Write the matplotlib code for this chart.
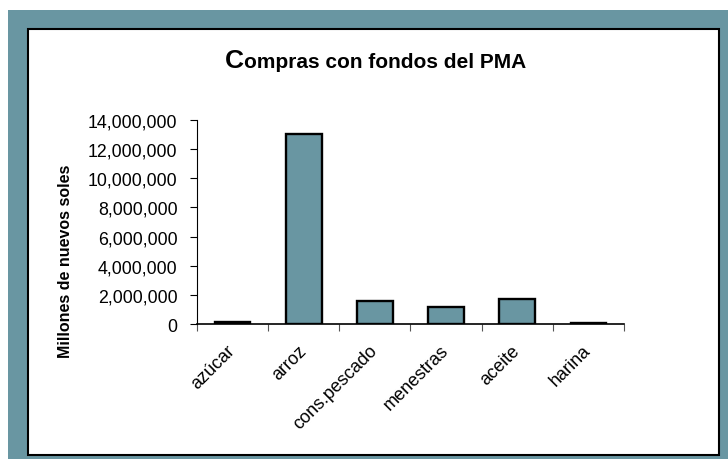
import numpy as np
import matplotlib
matplotlib.use("Agg")
import matplotlib.pyplot as plt
from matplotlib.patches import Rectangle
from matplotlib.ticker import FuncFormatter

plt.rcParams['font.family'] = ['Liberation Sans', 'DejaVu Sans']

# datos
productos = ["azúcar", "arroz", "cons.pescado", "menestras", "aceite", "harina"]
compras = [150000, 13050000, 1600000, 1200000, 1700000, 60000]
yticks = [0, 2000000, 4000000, 6000000, 8000000, 10000000, 12000000, 14000000]

teal = '#6996a2'
W, H = 728, 460

fig = plt.figure(figsize=(7.28, 4.60), dpi=100)
fig.patch.set_facecolor('white')

# fondo azul y panel blanco
fig.patches.append(Rectangle((8 / W, 0), 1 - 8 / W, 1 - 11 / H, transform=fig.transFigure,
                             facecolor=teal, edgecolor='none', zorder=-2))
fig.patches.append(Rectangle((27.5 / W, 1 - 456 / H), (718.5 - 27.5) / W, (456 - 30) / H,
                             transform=fig.transFigure, facecolor='white',
                             edgecolor='black', linewidth=1.5, zorder=-1))

ax = fig.add_axes([197 / W, 1 - 325 / H, (624 - 197) / W, (325 - 121) / H])
ax.set_zorder(2)
ax.set_facecolor('none')
x = np.arange(len(productos))
ax.bar(x, compras, width=0.5, color=teal, edgecolor='black', linewidth=1.7, zorder=3)

ax.set_xlim(-0.5, len(productos) - 0.5)
ax.set_ylim(0, 14000000)
ax.set_yticks(yticks)
ax.yaxis.set_major_formatter(FuncFormatter(lambda v, p: f"{int(v):,}"))
ax.set_xticks(np.arange(len(productos) + 1) - 0.5)
ax.set_xticklabels([])
ax.set_xticks(x, minor=True)
ax.set_xticklabels(productos, minor=True, rotation=45, ha='right', va='center',
                   rotation_mode='anchor', fontsize=13)
ax.tick_params(axis='x', which='minor', length=0, pad=17)
ax.tick_params(axis='x', which='major', length=5, width=0.8, color='#555555')
ax.tick_params(axis='y', length=5, width=0.8, pad=9, labelsize=12.8)

for s in ['top', 'right']:
    ax.spines[s].set_visible(False)
ax.spines['left'].set_linewidth(0.8)
ax.spines['bottom'].set_linewidth(1.2)

fig.text(66 / W, 1 - 261 / H, "Millones de nuevos soles", rotation=90, ha='center', va='center',
         fontsize=11.5, fontweight='bold')

# titulo con C mayor
x0 = 244 / W
yb = 1 - 67.5 / H
fig.text(x0, yb, "C", ha='right', va='baseline', fontsize=19, fontweight='bold')
fig.text(x0, yb, "ompras con fondos del PMA", ha='left', va='baseline', fontsize=15,
         fontweight='bold')

fig.savefig("out.png", dpi=100)
